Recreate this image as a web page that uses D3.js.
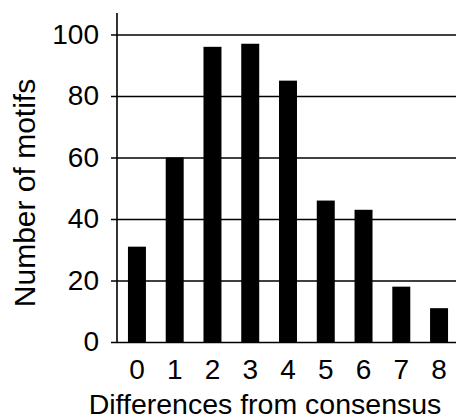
<!DOCTYPE html>
<html>
<head>
<meta charset="utf-8">
<script src="https://cdn.jsdelivr.net/npm/d3@7"></script>
<style>
	body { margin: 0; background: #fff; }
	svg { display: block; }
	text { font-family: "Liberation Sans", Arial, sans-serif; fill: #000; }
	.tick line { stroke: #000; stroke-width: 1.6px; }
	.domain { display: none; }
</style>
</head>
<body>
<div id="graphic"></div>
<script>
// data
const differences = ['0', '1', '2', '3', '4', '5', '6', '7', '8'];
const motifCounts = [31, 60, 96, 97, 85, 46, 43, 18, 11];
const yTicks = [0, 20, 40, 60, 80, 100];

const width = 458;
const height = 420;
const axisX = 117;

let svg = d3.select('#graphic')
	.append('svg')
	.attr('width', width)
	.attr('height', height);

//scales
const x = d3.scaleBand()
	.domain(differences)
	.range([axisX, 459])
	.paddingInner(0.524)
	.paddingOuter(0.29);

const y = d3.scaleLinear()
	.domain([0, 107])
	.range([342, 13]);

// y axis with gridlines running right across the plot
let yAxis = d3.axisLeft(y)
	.tickValues(yTicks)
	.tickSizeInner(-(456 - (axisX - 6)))
	.tickSizeOuter(0)
	.tickPadding(12);

svg.append('g')
	.attr('class', 'y axis')
	.attr('transform', 'translate(' + (axisX - 6) + ',0)')
	.call(yAxis)
	.selectAll('text')
	.attr('font-size', '28px');

// bars
svg.selectAll('rect.bar')
	.data(motifCounts)
	.join('rect')
	.attr('class', 'bar')
	.attr('x', (d, i) => x(differences[i]))
	.attr('width', x.bandwidth())
	.attr('y', (d) => y(d))
	.attr('height', (d) => y(0) - y(d))
	.attr('fill', '#000');

// vertical axis line
svg.append('line')
	.attr('x1', axisX)
	.attr('x2', axisX)
	.attr('y1', y(107))
	.attr('y2', y(0))
	.attr('stroke', '#000')
	.attr('stroke-width', 1.6);

// x axis, labels only
svg.append('g')
	.attr('class', 'x axis')
	.attr('transform', 'translate(0,' + y(0) + ')')
	.call(d3.axisBottom(x).tickSize(0).tickPadding(17))
	.selectAll('text')
	.attr('font-size', '28px');

// axis titles
svg.append('text')
	.attr('x', 265)
	.attr('y', 414)
	.attr('text-anchor', 'middle')
	.attr('font-size', '28.5px')
	.text('Differences from consensus');

svg.append('text')
	.attr('transform', 'translate(35,193) rotate(-90)')
	.attr('text-anchor', 'middle')
	.attr('font-size', '30px')
	.text('Number of motifs');
</script>
</body>
</html>
